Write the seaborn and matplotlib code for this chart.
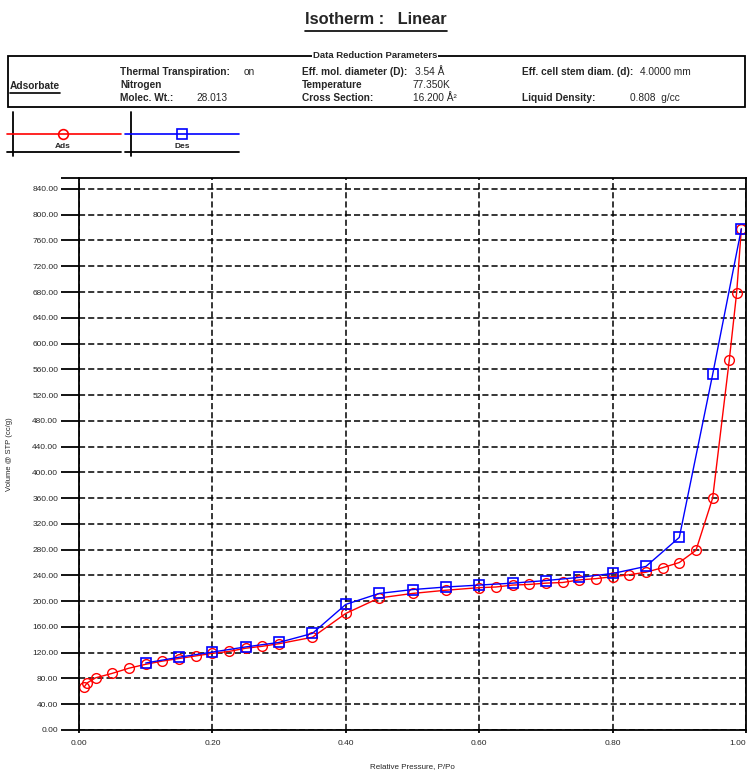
import matplotlib
matplotlib.use("Agg")
import matplotlib.pyplot as plt
import seaborn as sns
import numpy as np
from matplotlib.lines import Line2D
from matplotlib.patches import Rectangle

# adsorption branch (red circles)
ads_p = [0.008, 0.012, 0.025, 0.05, 0.075, 0.10, 0.125, 0.15, 0.175, 0.20,
         0.225, 0.25, 0.275, 0.30, 0.35, 0.40, 0.45, 0.50, 0.55, 0.60,
         0.625, 0.65, 0.675, 0.70, 0.725, 0.75, 0.775, 0.80, 0.825, 0.85,
         0.875, 0.90, 0.925, 0.95, 0.975, 0.986, 0.993]
ads_v = [67, 73, 81, 88, 96, 102, 107, 111, 115, 119,
         122, 127, 130, 134, 144, 181, 205, 212, 217, 221,
         222, 225, 226, 228, 229, 233, 235, 238, 241, 245,
         252, 260, 279, 360, 575, 679, 778]

# desorption branch (blue squares)
des_p = [0.993, 0.95, 0.90, 0.85, 0.80, 0.75, 0.70, 0.65, 0.60, 0.55,
         0.50, 0.45, 0.40, 0.35, 0.30, 0.25, 0.20, 0.15, 0.10]
des_v = [778, 552, 299, 254, 243, 237, 232, 228, 225, 222,
         218, 212, 195, 150, 136, 129, 121, 113, 104]

y_ticks = np.arange(0, 841, 40)
x_ticks = [0.0, 0.2, 0.4, 0.6, 0.8, 1.0]

W, H = 749, 773


def px(x, y):
    return x / W, 1 - y / H


sns.set_style("white")
plt.rcParams['font.family'] = ['Liberation Sans', 'DejaVu Sans']

fig = plt.figure(figsize=(W / 100, H / 100), dpi=100)
ax = fig.add_axes([79 / W, 1 - 730 / H, (746 - 79) / W, (730 - 178) / H])

sns.lineplot(x=ads_p, y=ads_v, ax=ax, color="red", linewidth=1, sort=False,
             marker="o", markersize=7, markerfacecolor="none",
             markeredgecolor="red", markeredgewidth=1)
sns.lineplot(x=des_p, y=des_v, ax=ax, color="blue", linewidth=1, sort=False,
             marker="s", markersize=7.5, markerfacecolor="none",
             markeredgecolor="blue", markeredgewidth=1.2)

ax.set_xlim(0, 1)
ax.set_ylim(0, 857)
ax.set_yticks(y_ticks)
ax.set_yticklabels([f"{v:.2f}" for v in y_ticks], fontsize=6)
ax.set_yticks([857], minor=True)
ax.set_xticks(x_ticks)
xl = ax.set_xticklabels([f"{v:.2f}" for v in x_ticks], fontsize=6)
xl[-1].set_horizontalalignment("right")
ax.tick_params(axis="y", which="both", direction="out", length=13, width=1.3,
               color="black", left=True, pad=2)
ax.tick_params(axis="x", direction="out", length=2, width=1.3,
               color="black", bottom=True, pad=5)
ax.grid(True, which="major", linestyle=(0, (4, 2)), color="black", linewidth=1.1)
for s in ax.spines.values():
    s.set_color("black")
    s.set_linewidth(1.3)
ax.set_xlabel("Relative Pressure, P/Po", fontsize=5.8, labelpad=12)
ax.set_ylabel("Volume @ STP (cc/g)", fontsize=5.5, labelpad=14)

# header
title = fig.text(*px(376, 20), "Isotherm :   Linear", fontsize=11.8, fontweight="bold",
                 ha="center", va="center")

fig.patches.append(Rectangle(px(8, 107), (745 - 8) / W, (107 - 56) / H,
                             transform=fig.transFigure, fill=False,
                             edgecolor="black", linewidth=1.3))
fig.text(*px(375, 55), "Data Reduction Parameters", fontsize=6.8, fontweight="bold",
         ha="center", va="center",
         bbox=dict(facecolor="white", edgecolor="none", pad=0.5))

fs = 7.3
adsb = fig.text(*px(10, 86), "Adsorbate", fontsize=fs, fontweight="bold", va="center")
fig.text(*px(120, 72), "Thermal Transpiration:", fontsize=fs, fontweight="bold", va="center")
fig.text(*px(244, 72), "on", fontsize=fs, va="center")
fig.text(*px(120, 85), "Nitrogen", fontsize=fs, fontweight="bold", va="center")
fig.text(*px(120, 98), "Molec. Wt.:", fontsize=fs, fontweight="bold", va="center")
fig.text(*px(196, 98), "28.013", fontsize=fs, va="center")
fig.text(*px(302, 72), "Eff. mol. diameter (D):", fontsize=fs, fontweight="bold", va="center")
fig.text(*px(415, 72), "3.54 Å", fontsize=fs, va="center")
fig.text(*px(302, 85), "Temperature", fontsize=fs, fontweight="bold", va="center")
fig.text(*px(413, 85), "77.350K", fontsize=fs, va="center")
fig.text(*px(302, 98), "Cross Section:", fontsize=fs, fontweight="bold", va="center")
fig.text(*px(413, 98), "16.200 Å²", fontsize=fs, va="center")
fig.text(*px(522, 72), "Eff. cell stem diam. (d):", fontsize=fs, fontweight="bold", va="center")
fig.text(*px(640, 72), "4.0000 mm", fontsize=fs, va="center")
fig.text(*px(522, 98), "Liquid Density:", fontsize=fs, fontweight="bold", va="center")
fig.text(*px(630, 98), "0.808  g/cc", fontsize=fs, va="center")

# legend panels
for x0, x1, xv, xm, col, mk, lab in [(7, 121, 13, 63, "red", "o", "Ads"),
                                      (125, 239, 131, 182, "blue", "s", "Des")]:
    fig.add_artist(Line2D([px(xv, 0)[0]] * 2, [px(0, 112)[1], px(0, 156)[1]],
                          transform=fig.transFigure, color="black", linewidth=1.3))
    fig.add_artist(Line2D([px(x0, 0)[0], px(x1, 0)[0]], [px(0, 152)[1]] * 2,
                          transform=fig.transFigure, color="black", linewidth=1.3))
    fig.add_artist(Line2D([px(x0, 0)[0], px(x1, 0)[0]], [px(0, 134)[1]] * 2,
                          transform=fig.transFigure, color=col, linewidth=1.2))
    fig.add_artist(Line2D([px(xm, 0)[0]], [px(0, 134)[1]], transform=fig.transFigure,
                          marker=mk, markersize=7, markerfacecolor="none",
                          markeredgecolor=col, markeredgewidth=1.2, linestyle="none"))
    fig.text(*px(xm, 146), lab, fontsize=6, fontweight="bold", ha="center", va="center")

# underlines for title and adsorbate label
fig.canvas.draw()
inv = fig.transFigure.inverted()
for t, off in [(title, 3), (adsb, 2)]:
    bb = t.get_window_extent()
    (xa, ya), (xb, _) = inv.transform([(bb.x0, bb.y0 - off), (bb.x1, bb.y0 - off)])
    fig.add_artist(Line2D([xa, xb], [ya, ya], transform=fig.transFigure,
                          color="black", linewidth=1.2))

fig.savefig("out.png", dpi=100)
